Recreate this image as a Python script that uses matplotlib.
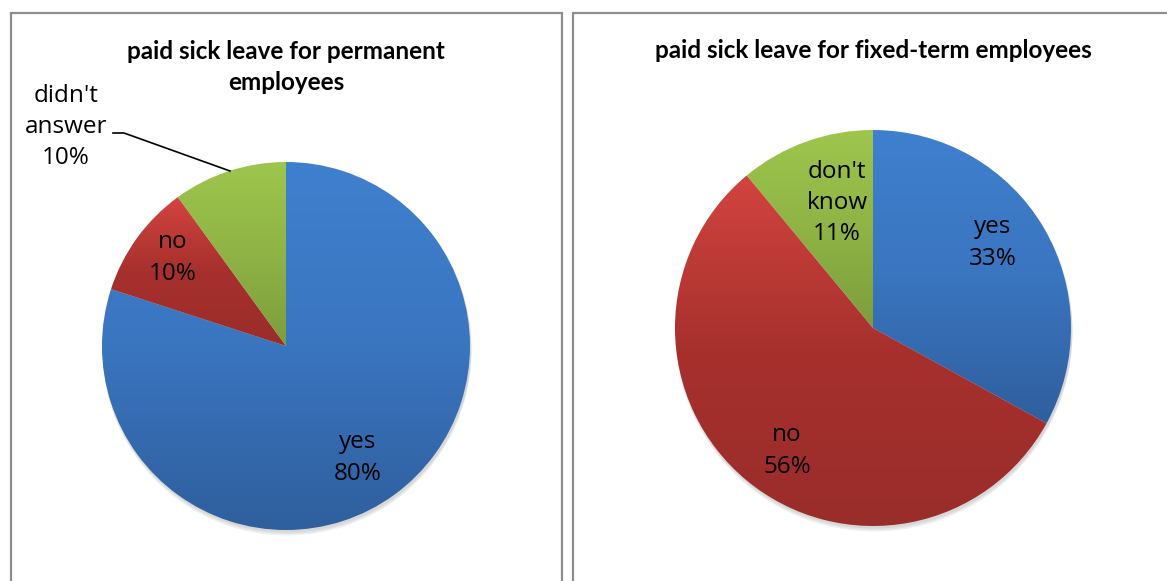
import numpy as np
import matplotlib

matplotlib.use("Agg")
import matplotlib.pyplot as plt
from matplotlib.patches import Rectangle, Circle

# data
perm_title = "paid sick leave for permanent\nemployees"
perm_labels = ["yes", "no", "didn't\nanswer"]
perm_values = [80, 10, 10]

fixed_title = "paid sick leave for fixed-term employees"
fixed_labels = ["yes", "no", "don't\nknow"]
fixed_values = [33, 56, 11]

# top -> bottom gradient stops per slice colour
GRADIENTS = [
    ["#3f80ce", "#3a75c0", "#2f5f9d"],   # blue
    ["#d2443f", "#a7302d", "#992d2a"],   # red
    ["#9ec64d", "#8fb345", "#7d9d3c"],   # green
]

W, H = 1167, 581
LABEL_FONT = ["Open Sans", "DejaVu Sans"]
TITLE_FONT = ["Lato", "DejaVu Sans"]


def gradient_fill(ax, wedge, stops):
    ext = wedge.get_path().get_extents()
    n = 256
    cols = np.array([matplotlib.colors.to_rgb(c) for c in stops])
    pos = np.linspace(0, 1, len(stops))
    # origin lower: row 0 is the bottom -> darkest stop
    t = np.linspace(1, 0, n)
    img = np.zeros((n, 1, 3))
    for k in range(3):
        img[:, 0, k] = np.interp(t, pos, cols[:, k])
    im = ax.imshow(img, extent=[ext.x0, ext.x1, ext.y0, ext.y1], origin="lower",
                   aspect="auto", interpolation="bilinear", zorder=2)
    im.set_clip_path(wedge)


def draw_pie(ax, values, center, radius):
    cx, cy = center
    for i, a in enumerate([0.05, 0.05, 0.06]):
        ax.add_patch(Circle((cx + 1, cy - 2 - i * 1.5), radius + 0.5, color="black",
                            alpha=a, lw=0, zorder=1))
    wedges, _ = ax.pie(values, startangle=90, counterclock=False, center=center,
                       radius=radius, frame=True,
                       wedgeprops={"linewidth": 0, "zorder": 2})
    for w, stops in zip(wedges, GRADIENTS):
        w.set_facecolor("none")
        gradient_fill(ax, w, stops)
    return wedges


fig = plt.figure(figsize=(W / 100, H / 100), dpi=100)
ax = fig.add_axes([0, 0, 1, 1])

# chart boxes
ax.add_patch(Rectangle((10.5, -5), 551.5, H - 13 + 5, fill=False, ec="#8e8e8e", lw=1.6, zorder=0))
ax.add_patch(Rectangle((573, -5), 620, H - 13 + 5, fill=False, ec="#8e8e8e", lw=1.6, zorder=0))

draw_pie(ax, perm_values, (286, H - 346), 184)
draw_pie(ax, fixed_values, (873, H - 328), 198)

ax.set_xlim(0, W)
ax.set_ylim(0, H)
ax.axis("off")

# titles
ax.text(286, H - 67, perm_title, ha="center", va="center", fontsize=17.5, fontweight="bold",
        family=TITLE_FONT, linespacing=1.45)
ax.text(873, H - 50, fixed_title, ha="center", va="center", fontsize=17.5, fontweight="bold",
        family=TITLE_FONT)

lab = dict(ha="center", va="center", fontsize=17.5, family=LABEL_FONT, linespacing=1.4, zorder=5)

perm_pos = [(358, H - 458), (173, H - 258), (66, H - 127)]
for name, v, (x, y) in zip(perm_labels, perm_values, perm_pos):
    ax.text(x, y, f"{name}\n{v}%", **lab)

fixed_pos = [(993, H - 243), (787, H - 451), (837, H - 203)]
for name, v, (x, y) in zip(fixed_labels, fixed_values, fixed_pos):
    ax.text(x, y, f"{name}\n{v}%", **lab)

# leader line for "didn't answer"
ax.plot([113, 124, 230], [H - 133, H - 133, H - 171], color="black", lw=1.2, zorder=4)

fig.savefig("out.png", dpi=100)
